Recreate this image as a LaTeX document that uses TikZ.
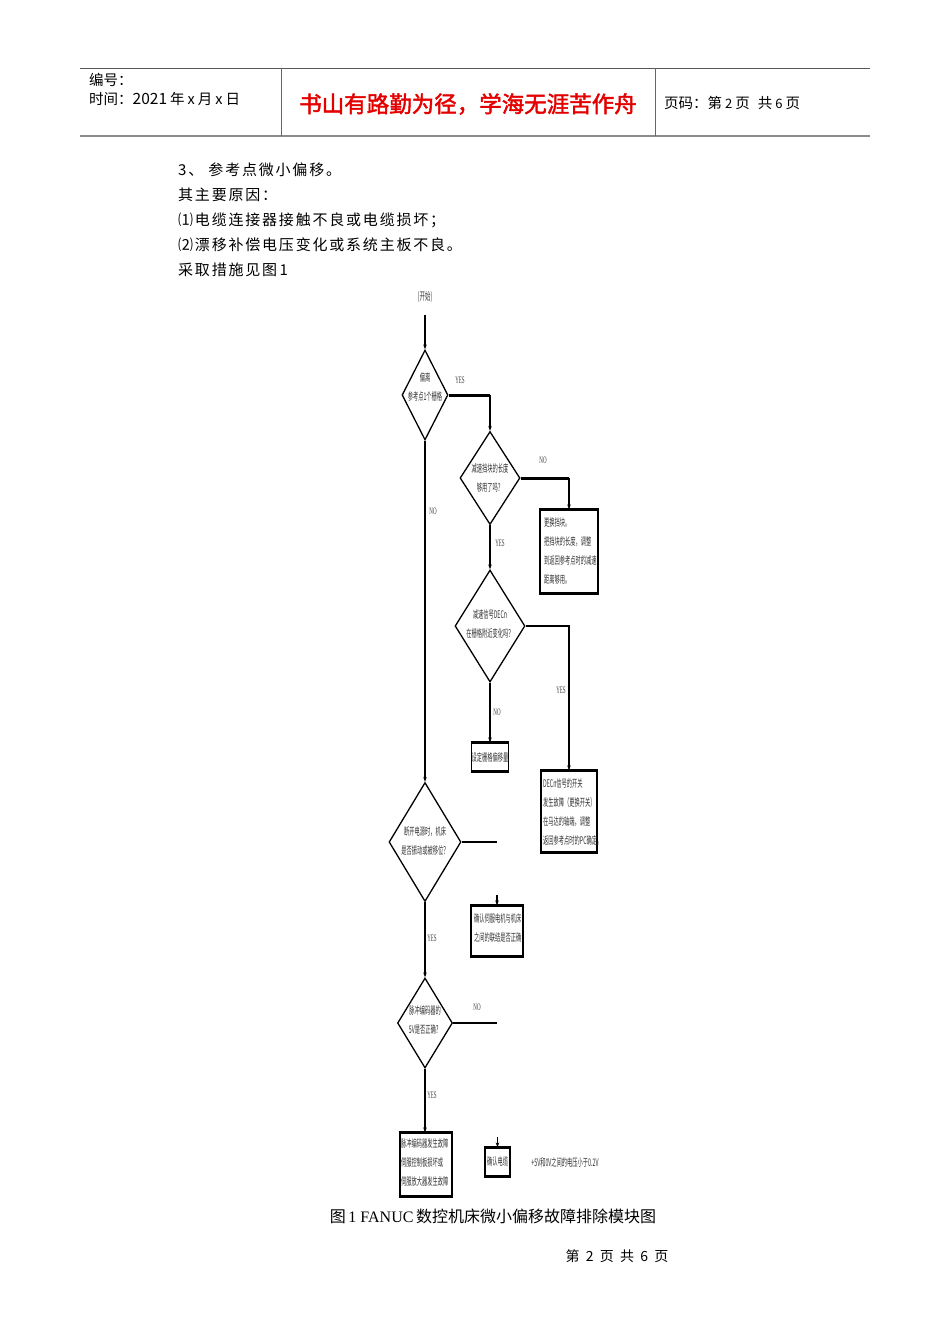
\documentclass[tikz,border=0pt]{standalone}
\usepackage{fontspec}
\setmainfont{Liberation Serif}
\newfontfamily\cjk{Noto Sans CJK SC}
\newfontfamily\cjkw[LetterSpace=12]{Noto Sans CJK SC}
\newfontfamily\cjkb[FakeBold=2]{Noto Sans CJK SC}
\usetikzlibrary{shapes.geometric,arrows.meta}
\newcommand\fc[1]{\scalebox{0.5}[1]{#1}}
\begin{document}
\begin{tikzpicture}[x=1pt,y=-1pt,
  ln/.style={line width=1.1pt,black},
  thk/.style={line width=3pt,black},
  arr/.style={-{Stealth[length=5pt,width=3.5pt]}},
  dia/.style={draw,diamond,line width=1.3pt,inner sep=0pt},
  fbox/.style={draw,line width=1.1pt,inner sep=0pt},
  ft/.style={font=\cjk\fontsize{10.5}{19}\selectfont,text=black!80,align=left,inner sep=0pt},
  lbl/.style={font=\fontsize{10}{10}\selectfont,text=black!75,inner sep=0pt},
  body/.style={font=\cjkw\fontsize{15}{16}\selectfont,anchor=west,inner sep=0pt},
  hdr/.style={font=\cjk\fontsize{14.5}{16}\selectfont,anchor=west,inner sep=0pt}]
\useasboundingbox[fill=white] (0,0) rectangle (950,1344);
% header
\draw[black!65,line width=0.9pt] (80,68) -- (870,68);
\draw[black!45,line width=2pt] (80,136) -- (870,136);
\draw[black!60,line width=0.9pt] (281,68) -- (281,136);
\draw[black!60,line width=0.9pt] (655,68) -- (655,136);
\node[hdr] (h1) at (89,80) {编号：};
\node[hdr] (h2) at (89,99) {时间：{\fontsize{15.5}{16}\selectfont 2021}\kern3pt 年\kern3pt x\kern3pt 月\kern3pt x\kern3pt 日};
\node[font=\cjkb\fontsize{22.5}{24}\selectfont,text=red!90!black,inner sep=0pt] (h3) at (468,104) {书山有路勤为径，学海无涯苦作舟};
\node[hdr] (h4) at (664,103) {页码：第\kern3pt{\fontsize{13}{14}\selectfont 2}\kern3pt 页\kern8pt 共\kern3pt{\fontsize{13}{14}\selectfont 6}\kern3pt 页};
% body text
\node[body] (t1) at (178,170) {3、 参考点微小偏移。};
\node[body] (t2) at (178,195) {其主要原因：};
\node[body] (t3) at (178,220) {⑴电缆连接器接触不良或电缆损坏；};
\node[body] (t4) at (178,245) {⑵漂移补偿电压变化或系统主板不良。};
\node[body] (t5) at (178,270) {采取措施见图\,1};
% flowchart
\node[lbl,font=\cjk\fontsize{11}{12}\selectfont] (st) at (425,297) {\fc{(开始)}};
\node[dia,minimum width=46pt,minimum height=90pt] (d1) at (425,395) {};
\node[ft,align=center] (d1t) at (425,387) {\fc{偏离}\\\fc{参考点1个栅格}};
\node[dia,minimum width=60pt,minimum height=93pt] (d2) at (490,478) {};
\node[ft,align=center] (d2t) at (490,478) {\fc{减速挡块的长度}\\\fc{够用了吗？}};
\node[fbox,minimum width=58pt,minimum height=83pt] (b1) at (569,551.5) {};
\node[ft,anchor=west] (b1t) at (544,551.5) {\fc{更换挡块。}\\\fc{把挡块的长度，调整}\\\fc{到返回参考点时的减速}\\\fc{距离够用。}};
\node[dia,minimum width=70pt,minimum height=112pt] (d3) at (490,626) {};
\node[ft,align=center] (d3t) at (490,624) {\fc{减速信号DECn}\\\fc{在栅格附近变化吗？}};
\node[fbox,minimum width=37pt,minimum height=28pt] (b2) at (490,757) {};
\node[ft] (b2t) at (490,757) {\fc{设定栅格偏移量}};
\node[fbox,minimum width=56pt,minimum height=81pt] (b3) at (569,811.5) {};
\node[ft,anchor=west] (b3t) at (543,811.5) {\fc{DECn信号的开关}\\\fc{发生故障（更换开关）}\\\fc{在马达的轴端，调整}\\\fc{返回参考点时的PC确定。}};
\node[dia,minimum width=72pt,minimum height=119pt] (d4) at (425,842) {};
\node[ft,align=center] (d4t) at (425,841) {\fc{断开电源时，机床}\\\fc{是否振动或被移位？}};
\node[fbox,minimum width=52pt,minimum height=50pt] (b4) at (497,931) {};
\node[ft,anchor=west] (b4t) at (474,928) {\fc{确认伺服电机与机床}\\\fc{之间的联结是否正确}};
\node[dia,minimum width=55pt,minimum height=90pt] (d5) at (425,1023) {};
\node[ft,align=center] (d5t) at (425,1020) {\fc{脉冲编码器的}\\\fc{5V是否正确？}};
\node[fbox,minimum width=52pt,minimum height=63pt] (b5) at (426,1164.5) {};
\node[ft,anchor=west] (b5t) at (401,1162) {\fc{脉冲编码器发生故障}\\\fc{伺服控制板损坏或}\\\fc{伺服放大器发生故障}};
\node[fbox,minimum width=25pt,minimum height=28pt] (b6) at (497.5,1162) {};
\node[ft] (b6t) at (497.5,1161) {\fc{确认电缆}};
\node[ft] (note) at (565,1162) {\fc{+5V和0V之间的电压小于0.2V}};
% thick box edges
\foreach \b in {b1,b2,b3,b4,b5,b6}{
  \draw[line width=2.6pt] (\b.north west) -- (\b.north east);
  \draw[line width=2pt] (\b.south west) -- (\b.south east);
}
% coordinates
\coordinate (c1) at (490,395);
\coordinate (c2) at (569,478);
\coordinate (c4) at (497,842);
\coordinate (c5) at (497,895);
\coordinate (c6) at (497,1023);
\coordinate (c7) at (497.5,1137);
% connectors
\draw[ln,arr,shorten <=12pt] (st.south) -- (d1.north);
\draw[thk] (d1.east) -- (c1);
\draw[ln,arr] (c1) -- (d2.north);
\draw[thk] (d2.east) -- (c2);
\draw[ln,arr] (c2) -- (b1.north);
\draw[ln,arr] (d2.south) -- (d3.north);
\draw[ln,arr] (d3.east) -| (b3.north);
\draw[ln,arr] (d3.south) -- (b2.north);
\draw[ln,arr] (d1.south) -- (d4.north);
\draw[ln] (d4.east) -- (c4);
\draw[ln,arr] (c5) -- (b4.north);
\draw[ln,arr] (d4.south) -- (d5.north);
\draw[ln] (d5.east) -- (c6);
\draw[ln,arr] (d5.south) -- (d5.south |- b5.north);
\draw[ln,arr] (c7) -- (b6.north);
% labels
\node[lbl] (l1) at (460,380) {\fc{YES}};
\node[lbl] (l2) at (543,460) {\fc{NO}};
\node[lbl] (l3) at (500,543) {\fc{YES}};
\node[lbl] (l4) at (561,690) {\fc{YES}};
\node[lbl] (l5) at (497,712) {\fc{NO}};
\node[lbl] (l6) at (433,511) {\fc{NO}};
\node[lbl] (l7) at (432,938) {\fc{YES}};
\node[lbl] (l8) at (477,1007) {\fc{NO}};
\node[lbl] (l9) at (432,1095) {\fc{YES}};
% caption and footer
\node[font=\cjk\fontsize{16}{17}\selectfont,inner sep=0pt] (cap) at (493,1216) {图\,{\rmfamily 1 FANUC}\,数控机床微小偏移故障排除模块图};
\node[font=\cjk\fontsize{14}{16}\selectfont,inner sep=0pt] (foot) at (617,1256) {第\ \ 2\ \ 页\ \ 共\ \ 6\ \ 页};
\end{tikzpicture}
\end{document}
